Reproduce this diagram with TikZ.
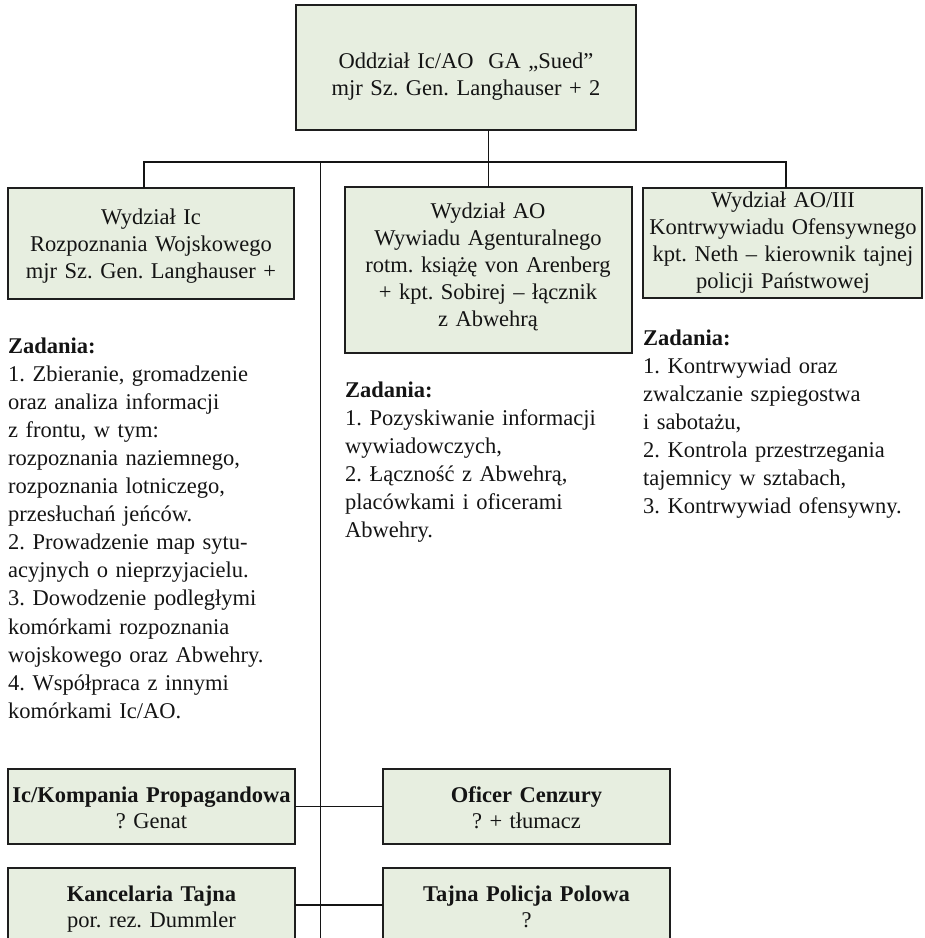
\documentclass[tikz,border=0pt]{standalone}
\usepackage{fontspec}
\setmainfont{Liberation Serif}
\definecolor{boxfill}{HTML}{E7EEE0}
\definecolor{boxline}{HTML}{1E1E1E}
\definecolor{ink}{HTML}{141414}
\frenchspacing
\begin{document}
\begin{tikzpicture}[x=1pt,y=-1pt,
  box/.style={draw=boxline, line width=1.8pt, fill=boxfill, inner sep=0pt, outer sep=0pt, anchor=north west},
  boxtext/.style={anchor=base, inner sep=0pt, text width=340pt, align=center,
    font=\fontsize{22.5}{27.2}\selectfont, text=ink},
  unittext/.style={anchor=base, inner sep=0pt, text width=340pt, align=center,
    font=\fontsize{22.5}{26.5}\selectfont, text=ink},
  tasks/.style={anchor=base west, inner sep=0pt, text width=320pt, align=left,
    font=\fontsize{22.5}{28.1}\selectfont, text=ink},
  wire/.style={line width=1.3pt, draw=ink},
  spine/.style={line width=1pt, draw=ink}]

\useasboundingbox (0,0) rectangle (925,938);
\clip (0,0) rectangle (925,938);

% boxes
\node[box, minimum width=340pt, minimum height=125pt] (top) at (296,5) {};
\node[box, minimum width=286pt, minimum height=111pt] (ic) at (8,188) {};
\node[box, minimum width=287pt, minimum height=166pt] (ao) at (345,187) {};
\node[box, minimum width=279pt, minimum height=110pt] (ao3) at (643,188) {};
\node[box, minimum width=287pt, minimum height=75pt] (prop) at (8,769) {};
\node[box, minimum width=287pt, minimum height=75pt] (cenz) at (383,769) {};
\node[box, minimum width=287pt, minimum height=74pt] (kanc) at (8,868) {};
\node[box, minimum width=287pt, minimum height=74pt] (gfp) at (383,868) {};

% connector points
\coordinate (busL) at (144,162);
\coordinate (busR) at (786,162);
\coordinate (spineTop) at (320,162);
\coordinate (spineEnd) at (320,940);

% connectors
\draw[wire] (top.south -| ao.north) -- (ao.north);
\draw[wire] (ic.north -| busL) -- (busL) -- (busR) -- (ao3.north -| busR);
\draw[spine] (spineTop) -- (spineEnd);
\draw[wire] (prop.east) -- (cenz.west);
\draw[wire] (kanc.east) -- (gfp.west);

% box texts
\node[boxtext] (topt) at (466,68) {Oddział Ic/AO\ \ GA „Sued”\\mjr Sz. Gen. Langhauser + 2};
\node[boxtext] (ict) at (151,224) {Wydział Ic\\Rozpoznania Wojskowego\\mjr Sz. Gen. Langhauser +};
\node[boxtext] (aot) at (488,218) {Wydział AO\\Wywiadu Agenturalnego\\rotm. książę von Arenberg\\+ kpt. Sobirej – łącznik\\z Abwehrą};
\node[boxtext] (ao3t) at (783,207) {Wydział AO/III\\Kontrwywiadu Ofensywnego\\kpt. Neth – kierownik tajnej\\policji Państwowej};

\node[unittext] (propt) at (151.5,802) {\textbf{Ic/Kompania Propagandowa}\\? Genat};
\node[unittext] (cenzt) at (526.5,802) {\textbf{Oficer Cenzury}\\? + tłumacz};
\node[unittext] (kanct) at (151.5,901) {\textbf{Kancelaria Tajna}\\por. rez. Dummler};
\node[unittext] (gfpt) at (526.5,901) {\textbf{Tajna Policja Polowa}\\?};

% task lists
\node[tasks] (ictasks) at (8,353) {\textbf{Zadania:}\\
1. Zbieranie, gromadzenie\\
oraz analiza informacji\\
z frontu, w tym:\\
rozpoznania naziemnego,\\
rozpoznania lotniczego,\\
przesłuchań jeńców.\\
2. Prowadzenie map sytu-\\
acyjnych o nieprzyjacielu.\\
3. Dowodzenie podległymi\\
komórkami rozpoznania\\
wojskowego oraz Abwehry.\\
4. Współpraca z innymi\\
komórkami Ic/AO.};

\node[tasks] (aotasks) at (345,397) {\textbf{Zadania:}\\
1. Pozyskiwanie informacji\\
wywiadowczych,\\
2. Łączność z Abwehrą,\\
placówkami i oficerami\\
Abwehry.};

\node[tasks] (ao3tasks) at (643,345) {\textbf{Zadania:}\\
1. Kontrwywiad oraz\\
zwalczanie szpiegostwa\\
i sabotażu,\\
2. Kontrola przestrzegania\\
tajemnicy w sztabach,\\
3. Kontrwywiad ofensywny.};
\end{tikzpicture}
\end{document}
